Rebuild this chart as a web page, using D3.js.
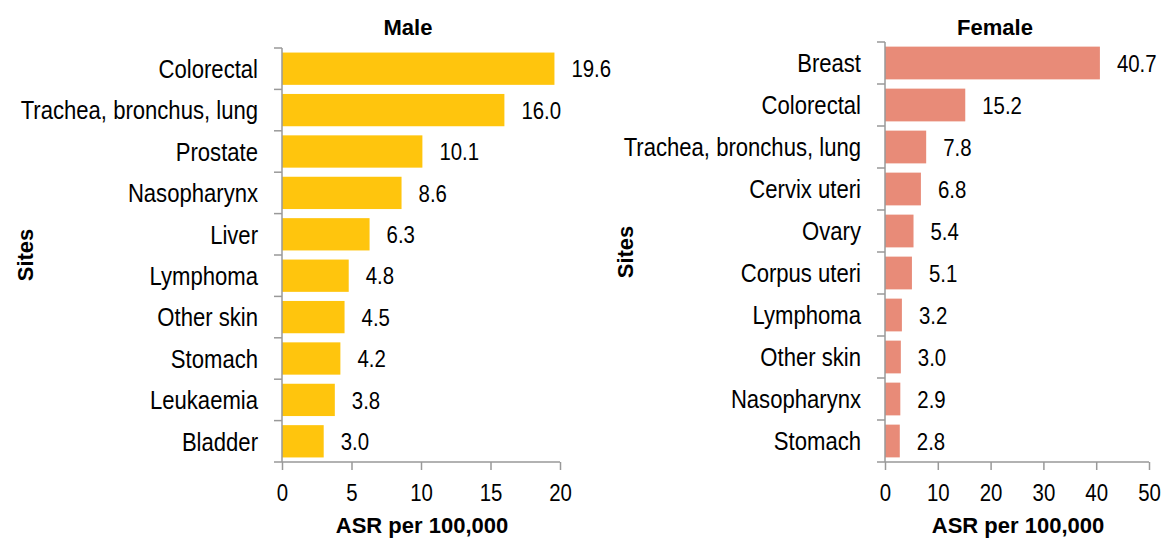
<!DOCTYPE html>
<html>
<head>
<meta charset="utf-8">
<script src="https://cdn.jsdelivr.net/npm/d3@7"></script>
<style>
  body { margin: 0; background: #fff; }
  svg text { font-family: "Liberation Sans", Arial, sans-serif; fill: #000; }
  .title, .label { font-weight: bold; }
</style>
</head>
<body>
<svg id="chart" width="1163" height="539"></svg>
<script>
// male top 10 sites
const maleSites = ["Colorectal", "Trachea, bronchus, lung", "Prostate", "Nasopharynx", "Liver",
    "Lymphoma", "Other skin", "Stomach", "Leukaemia", "Bladder"];
const maleValues = [19.6, 16.0, 10.1, 8.6, 6.3, 4.8, 4.5, 4.2, 3.8, 3.0];
const maleTicks = [0, 5, 10, 15, 20];

// female top 10 sites
const femaleSites = ["Breast", "Colorectal", "Trachea, bronchus, lung", "Cervix uteri", "Ovary",
    "Corpus uteri", "Lymphoma", "Other skin", "Nasopharynx", "Stomach"];
const femaleValues = [40.7, 15.2, 7.8, 6.8, 5.4, 5.1, 3.2, 3.0, 2.9, 2.8];
const femaleTicks = [0, 10, 20, 30, 40, 50];

const svg = d3.select("#chart");
// the original uses a narrow face; squeeze regular text horizontally
const squeeze = 0.85;

function makepanel(opts) {
    const data = opts.sites.map((s, i) => ({site: s, value: opts.values[i]}));

    const x = d3.scaleLinear()
        .domain([0, opts.ticks[opts.ticks.length - 1]])
        .range([opts.left, opts.right]);

    const y = d3.scaleBand()
        .domain(opts.sites)
        .range([opts.top, opts.bottom])
        .paddingInner(0.22)
        .paddingOuter(0.11);

    const g = svg.append("g");

    // bars
    g.selectAll("rect.bar")
        .data(data)
        .enter()
        .append("rect")
        .attr("class", "bar")
        .attr("x", x(0))
        .attr("y", d => y(d.site))
        .attr("width", d => x(d.value) - x(0))
        .attr("height", y.bandwidth())
        .attr("fill", opts.color);

    // value labels
    g.selectAll("text.value")
        .data(data)
        .enter()
        .append("text")
        .attr("class", "value")
        .attr("transform", d => `translate(${x(d.value) + 17},${y(d.site) + y.bandwidth() / 2}) scale(${squeeze},1)`)
        .attr("dy", "0.36em")
        .style("font-size", "24px")
        .text(d => d.value.toFixed(1));

    // x axis
    const xAxis = g.append("g")
        .attr("transform", `translate(0,${opts.bottom})`)
        .call(d3.axisBottom(x).tickValues(opts.ticks).tickSize(8).tickPadding(14).tickFormat(d3.format("d")));
    xAxis.selectAll("path, line").attr("stroke", "#999").attr("stroke-width", 1.5);
    xAxis.select("path").attr("d", `M${opts.left},0H${opts.right}`);
    xAxis.selectAll("text")
        .attr("transform", `scale(${squeeze},1)`)
        .style("font-size", "24px")
        .attr("fill", "#000");

    // y axis: line with boundary ticks between categories
    const step = (opts.bottom - opts.top) / opts.sites.length;
    const bounds = d3.range(opts.sites.length + 1).map(i => opts.top + i * step);
    g.append("line")
        .attr("x1", x(0)).attr("x2", x(0))
        .attr("y1", opts.top).attr("y2", opts.bottom)
        .attr("stroke", "#999").attr("stroke-width", 1.5);
    g.selectAll("line.ytick")
        .data(bounds)
        .enter()
        .append("line")
        .attr("class", "ytick")
        .attr("x1", x(0) - 8).attr("x2", x(0))
        .attr("y1", d => d).attr("y2", d => d)
        .attr("stroke", "#999").attr("stroke-width", 1.5);

    // category labels
    g.selectAll("text.cat")
        .data(data)
        .enter()
        .append("text")
        .attr("class", "cat")
        .attr("transform", d => `translate(${x(0) - 24},${y(d.site) + y.bandwidth() / 2}) scale(${squeeze},1)`)
        .attr("dy", "0.36em")
        .attr("text-anchor", "end")
        .style("font-size", "26px")
        .text(d => d.site);

    // titles
    svg.append("text")
        .attr("class", "title")
        .attr("x", opts.titleX)
        .attr("y", 35)
        .attr("text-anchor", "middle")
        .style("font-size", "22px")
        .text(opts.title);

    svg.append("text")
        .attr("class", "label")
        .attr("x", (opts.left + opts.right) / 2 + 1)
        .attr("y", 533)
        .attr("text-anchor", "middle")
        .style("font-size", "22px")
        .text("ASR per 100,000");

    svg.append("text")
        .attr("class", "label")
        .attr("transform", `translate(${opts.sitesX},${(opts.top + opts.bottom) / 2}) rotate(-90)`)
        .attr("text-anchor", "middle")
        .style("font-size", "22px")
        .text("Sites");
}

makepanel({
    sites: maleSites, values: maleValues, ticks: maleTicks,
    left: 282, right: 560, top: 48, bottom: 462,
    color: "#FFC50D", title: "Male", titleX: 408, sitesX: 33
});

makepanel({
    sites: femaleSites, values: femaleValues, ticks: femaleTicks,
    left: 885, right: 1149, top: 42, bottom: 462,
    color: "#E88B78", title: "Female", titleX: 995, sitesX: 633
});
</script>
</body>
</html>
